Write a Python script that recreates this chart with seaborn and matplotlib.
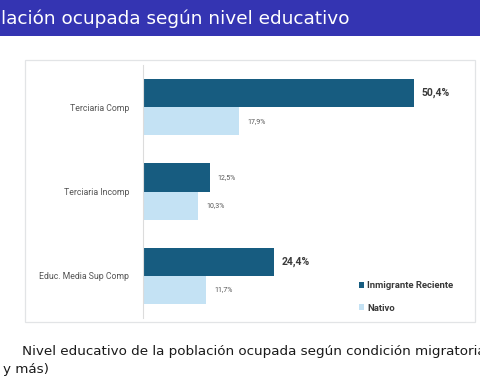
import matplotlib
matplotlib.use("Agg")
import matplotlib.pyplot as plt
import seaborn as sns
import pandas as pd
from matplotlib.patches import Rectangle

categories = ["Terciaria Comp", "Terciaria Incomp", "Educ. Media Sup Comp"]
series_names = ["Inmigrante Reciente", "Nativo"]
inmigrante = [50.4, 12.5, 24.4]
nativo = [17.9, 10.3, 11.7]
inmigrante_labels = ["50,4%", "12,5%", "24,4%"]
nativo_labels = ["17,9%", "10,3%", "11,7%"]
inmigrante_bold = [True, False, True]

title_text = "lación ocupada según nivel educativo"
caption_1 = "Nivel educativo de la población ocupada según condición migratoria"
caption_2 = "y más)"

df = pd.DataFrame({
    "cat": categories * 2,
    "grupo": [series_names[0]] * 3 + [series_names[1]] * 3,
    "valor": inmigrante + nativo,
})

sns.set_theme(style="white")
plt.rcParams["font.family"] = ["DejaVu Sans"]

W, H = 480, 384
fig = plt.figure(figsize=(4.8, 3.84), dpi=100)
fig.patch.set_facecolor("white")

# banner
fig.add_artist(Rectangle((0, 1 - 36 / H), 1, 36 / H, transform=fig.transFigure,
                         facecolor="#3434b2", edgecolor="none", zorder=0))
fig.text(1 / W, 1 - 19 / H, title_text, color="white", fontsize=13.3,
         va="center", ha="left")

# chart box
fig.add_artist(Rectangle((25 / W, 1 - 322 / H), 450 / W, 262 / H, transform=fig.transFigure,
                         facecolor="white", edgecolor="#e2e4e6", linewidth=0.9, zorder=0))

ax = fig.add_axes([143 / W, 1 - 318 / H, 323 / W, 253 / H])
ax.set_facecolor("none")
dark = "#175c80"
light = "#c4e2f4"
sns.barplot(data=df, y="cat", x="valor", hue="grupo", order=categories,
            hue_order=series_names, palette=[dark, light], orient="h",
            width=0.665, ax=ax, saturation=1, linewidth=0)
ax.set_xlim(0, 60)
ax.set_ylim(2.5, -0.5)
ax.set_xlabel("")
ax.set_ylabel("")
ax.set_xticks([])
for s in ["top", "right", "bottom"]:
    ax.spines[s].set_visible(False)
ax.spines["left"].set_color("#dcdcdc")
ax.spines["left"].set_linewidth(0.8)
ax.tick_params(axis="y", length=0, pad=10, labelsize=6.3, labelcolor="#555555")
for lab in ax.get_yticklabels():
    lab.set_family(["Roboto", "DejaVu Sans"])

# value labels
bars_dark = ax.containers[0]
bars_light = ax.containers[1]
for rect, txt, bold in zip(bars_dark, inmigrante_labels, inmigrante_bold):
    y = rect.get_y() + rect.get_height() / 2
    if bold:
        ax.annotate(txt, (rect.get_width(), y), xytext=(7, 0), textcoords="offset pixels",
                    va="center", ha="left", fontsize=7.5, fontweight="bold", color="#3a3a3a",
                    family=["Roboto", "DejaVu Sans"])
    else:
        ax.annotate(txt, (rect.get_width(), y), xytext=(7, 0), textcoords="offset pixels",
                    va="center", ha="left", fontsize=5, color="#555555",
                    family=["Roboto", "DejaVu Sans"])
for rect, txt in zip(bars_light, nativo_labels):
    y = rect.get_y() + rect.get_height() / 2
    ax.annotate(txt, (rect.get_width(), y), xytext=(8, 0), textcoords="offset pixels",
                va="center", ha="left", fontsize=5, color="#555555",
                family=["Roboto", "DejaVu Sans"])

leg = ax.legend(loc="lower left", bbox_to_anchor=((350 - 143) / 323, -0.012),
                frameon=False, handlelength=0.6, handleheight=0.6, handletextpad=0.3,
                labelspacing=1.45, fontsize=6.8)
for t in leg.get_texts():
    t.set_fontweight("bold")
    t.set_color("#3a3a3a")
    t.set_family(["Roboto", "DejaVu Sans"])

# caption
fig.text(22 / W, 1 - 351 / H, caption_1, fontsize=9.7, color="#1a1a1a",
         va="center", ha="left")
fig.text(3 / W, 1 - 370 / H, caption_2, fontsize=9.7, color="#1a1a1a",
         va="center", ha="left")

fig.savefig("out.png", dpi=100)
